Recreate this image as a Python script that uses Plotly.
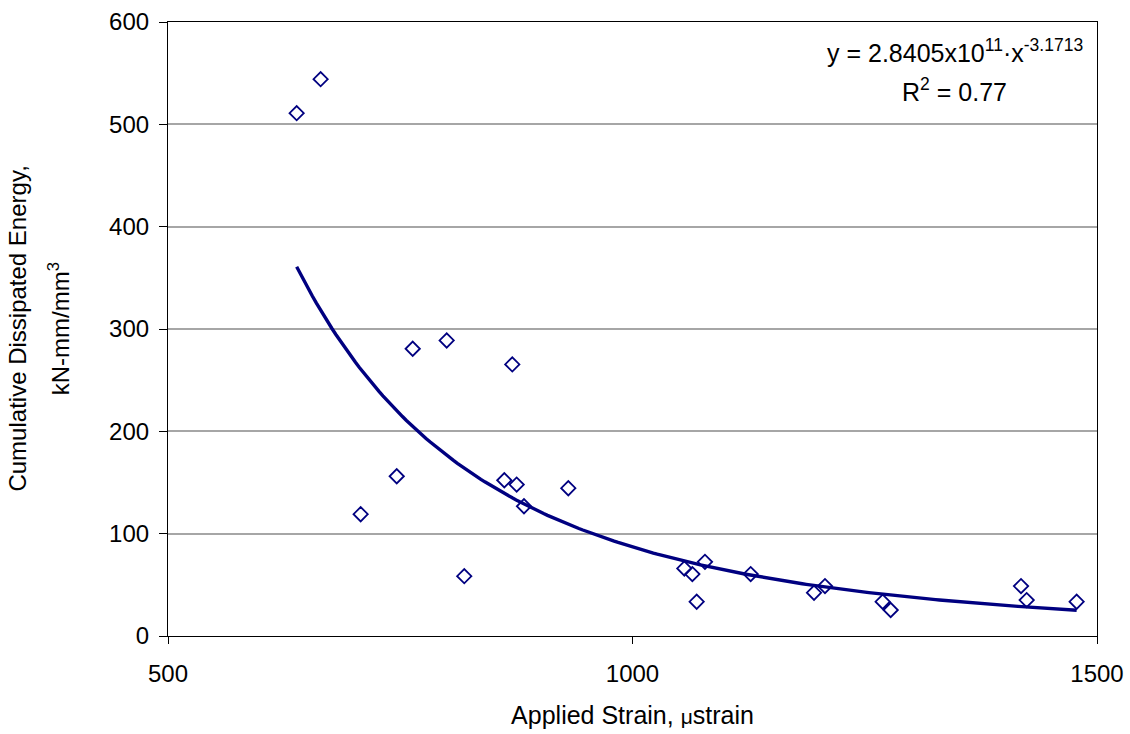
import numpy as np
import plotly.graph_objects as go

# Measured specimens: applied strain (microstrain) vs cumulative dissipated energy
strain = [638.5, 664.3, 707.4, 746.2, 763.4, 800.0, 818.9, 862.0, 870.6, 875.3,
          883.2, 930.9, 1055.8, 1064.4, 1069.1, 1078.0, 1127.2, 1195.4, 1207.2,
          1269.3, 1277.9, 1418.2, 1424.3, 1478.1]
energy = [510.9, 544.1, 119.0, 156.1, 280.7, 288.8, 58.5, 152.2, 265.4, 148.0,
          126.8, 144.4, 66.0, 60.5, 33.5, 72.5, 60.5, 42.3, 48.8,
          33.5, 25.4, 48.8, 35.1, 33.5]

# Power-law fit coefficients y = a * x^b
fit_a = 2.8405e11
fit_b = -3.1713
fit_r2 = 0.77

x_ticks = [500, 1000, 1500]
y_ticks = [0, 100, 200, 300, 400, 500, 600]

navy = "#000080"
font_family = "Liberation Sans, Arial, sans-serif"

fit_x = np.linspace(min(strain), max(strain), 200)
fit_y = fit_a * fit_x ** fit_b

fig = go.Figure()
fig.add_trace(go.Scatter(
    x=fit_x, y=fit_y, mode="lines",
    line=dict(color=navy, width=3.4),
    hoverinfo="skip", showlegend=False,
))
fig.add_trace(go.Scatter(
    x=strain, y=energy, mode="markers",
    marker=dict(symbol="diamond-open", size=11, color=navy,
                line=dict(color=navy, width=1.8)),
    showlegend=False,
))

# Fit equation and coefficient of determination
fig.add_annotation(
    x=1347, y=0.952, xref="x", yref="paper",
    xanchor="center", yanchor="middle", showarrow=False,
    text="y = 2.8405x10<sup>11</sup>·x<sup>-3.1713</sup>",
    font=dict(family=font_family, size=25, color="black"),
)
fig.add_annotation(
    x=1347, y=0.889, xref="x", yref="paper",
    xanchor="center", yanchor="middle", showarrow=False,
    text=f"R<sup>2</sup> = {fit_r2:.2f}",
    font=dict(family=font_family, size=25, color="black"),
)

# Two-line rotated y-axis title
fig.add_annotation(
    x=-0.163, y=0.5, xref="paper", yref="paper", textangle=-90,
    xanchor="center", yanchor="middle", showarrow=False,
    text="Cumulative Dissipated Energy,",
    font=dict(family=font_family, size=24, color="black"),
)
fig.add_annotation(
    x=-0.117, y=0.5, xref="paper", yref="paper", textangle=-90,
    xanchor="center", yanchor="middle", showarrow=False,
    text="kN-mm/mm<sup>3</sup>",
    font=dict(family=font_family, size=24, color="black"),
)

fig.update_layout(
    width=1130, height=734,
    margin=dict(l=168, r=33, t=22, b=98),
    paper_bgcolor="white", plot_bgcolor="white",
    font=dict(family=font_family, size=24, color="black"),
    xaxis=dict(
        range=[500, 1500], tickvals=x_ticks, showgrid=False, zeroline=False,
        showline=True, linecolor="black", linewidth=1.2, mirror=True,
        ticks="outside", ticklen=7, tickcolor="black",
        ticklabelstandoff=9, automargin=False,
        tickfont=dict(size=24),
        title=dict(text="Applied Strain, <span style='font-size:21px'>μ</span>strain",
                   font=dict(size=25), standoff=20),
    ),
    yaxis=dict(
        range=[0, 600], tickvals=y_ticks, showgrid=True, gridcolor="#a6a6a6",
        gridwidth=2, zeroline=False,
        showline=True, linecolor="black", linewidth=1.2, mirror=True,
        ticks="outside", ticklen=8, tickcolor="black",
        ticklabelstandoff=5, automargin=False,
        tickfont=dict(size=24),
    ),
)

fig.write_html("out.html")
